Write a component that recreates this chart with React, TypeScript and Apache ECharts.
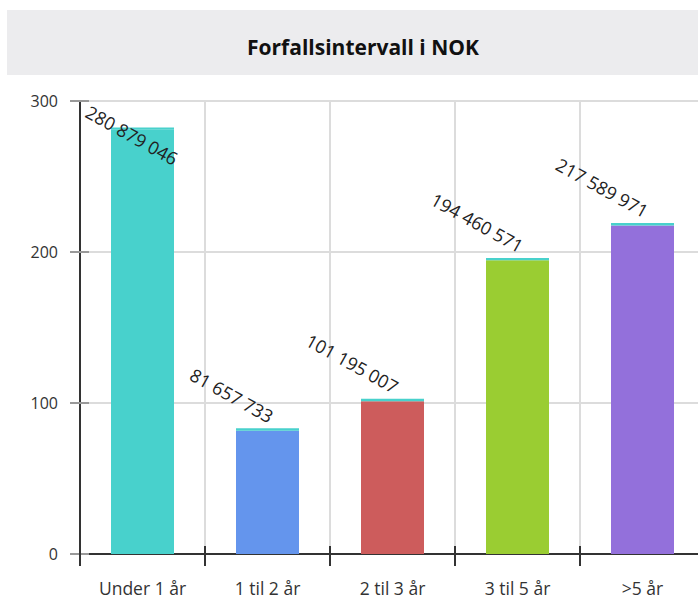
import React, { useEffect, useRef } from "react";
import * as echarts from "echarts";

const categories = ["Under 1 år", "1 til 2 år", "2 til 3 år", "3 til 5 år", ">5 år"];
const amounts = [280879046, 81657733, 101195007, 194460571, 217589971];
const topStrip = [1600000, 1600000, 1600000, 1600000, 1600000];
const barColors = ["#48D1CC", "#6495ED", "#CD5C5C", "#9ACD32", "#9370DB"];
const stripColor = "#48D1CC";
const yTicks = [0, 100000000, 200000000, 300000000];

const FONT = "'Open Sans', 'Noto Sans', sans-serif";

function fmt(n: number): string {
  return String(n).replace(/\B(?=(\d{3})+(?!\d))/g, " ");
}

export default function App() {
  const ref = useRef<HTMLDivElement>(null);
  useEffect(() => {
    if (!ref.current) return;
    const chart = echarts.init(ref.current, undefined, { renderer: "svg" });
    const mainData = amounts.map((v, i) => {
      const item: any = { value: v, itemStyle: { color: barColors[i] } };
      if (i === 0) {
        item.label = { position: ["104%", 30] };
      }
      return item;
    });
    const yBase = {
      type: "value",
      min: 0,
      max: 300000000,
      interval: 100000000,
    };
    chart.setOption({
      animation: false,
      backgroundColor: "#ffffff",
      graphic: [
        {
          type: "rect",
          left: 7,
          top: 10,
          shape: { width: 699, height: 65 },
          style: { fill: "#ececee" },
          z: -10,
        },
      ],
      title: {
        text: "Forfallsintervall i NOK",
        left: 358,
        top: 31,
        textAlign: "center",
        textStyle: { fontFamily: FONT, fontWeight: "bold", fontSize: 21, color: "#111" },
      },
      grid: { left: 80, top: 101, width: 625, height: 453, containLabel: false },
      xAxis: [
        {
          type: "category",
          data: categories,
          boundaryGap: true,
          axisLine: { show: true, lineStyle: { color: "#333", width: 2 } },
          axisTick: { show: true, length: 12, lineStyle: { color: "#333", width: 2 } },
          axisLabel: { color: "#333", fontFamily: FONT, fontSize: 17.5, margin: 25 },
          splitLine: { show: true, lineStyle: { color: "#dcdcdc", width: 2 } },
        },
        {
          type: "category",
          data: categories,
          position: "bottom",
          boundaryGap: true,
          axisLine: { show: false },
          axisTick: { show: true, inside: true, length: 8, lineStyle: { color: "#333", width: 2 } },
          axisLabel: { show: false },
          splitLine: { show: false },
        },
      ],
      yAxis: [
        {
          ...yBase,
          axisLine: { show: true, lineStyle: { color: "#333", width: 2 } },
          axisTick: { show: true, length: 10, lineStyle: { color: "#999", width: 2 } },
          axisLabel: {
            color: "#333",
            fontFamily: FONT,
            fontSize: 16,
            margin: 22,
            formatter: (v: number) => (yTicks.includes(v) ? String(v / 1000000) : ""),
          },
          splitLine: { show: true, lineStyle: { color: "#dcdcdc", width: 2 } },
        },
        {
          ...yBase,
          position: "left",
          axisLine: { show: false },
          axisTick: { show: true, inside: true, length: 9, lineStyle: { color: "#999", width: 2 } },
          axisLabel: { show: false },
          splitLine: { show: false },
        },
      ],
      series: [
        {
          name: "Beløp",
          type: "bar",
          stack: "total",
          barWidth: 63,
          xAxisIndex: 0,
          yAxisIndex: 0,
          data: mainData,
          label: {
            show: true,
            position: ["57%", -13],
            align: "right",
            verticalAlign: "middle",
            rotate: -29,
            color: "#222",
            fontFamily: FONT,
            fontSize: 18,
            formatter: (p: any) => fmt(p.value),
          },
          z: 3,
        },
        {
          name: "Topp",
          type: "bar",
          stack: "total",
          barWidth: 63,
          xAxisIndex: 0,
          yAxisIndex: 0,
          data: topStrip,
          itemStyle: { color: stripColor },
          label: { show: false },
          z: 3,
        },
      ],
    });
    return () => chart.dispose();
  }, []);
  return (
    <div
      ref={ref}
      style={{ position: "fixed", left: 0, top: 0, width: 706, height: 601 }}
    />
  );
}
